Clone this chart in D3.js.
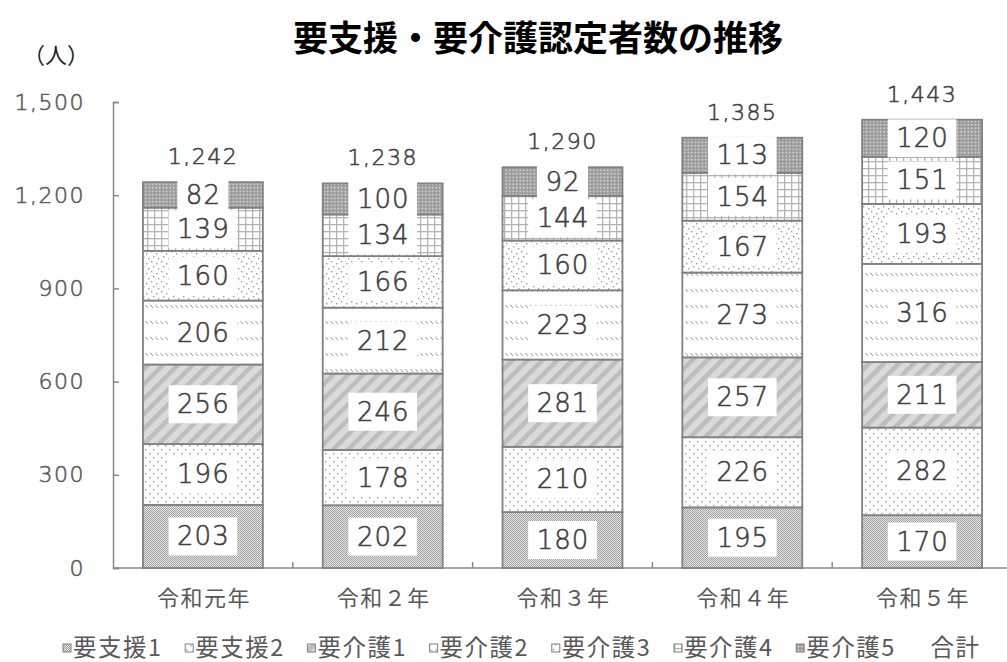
<!DOCTYPE html>
<html>
<head>
<meta charset="utf-8">
<script src="https://cdn.jsdelivr.net/npm/d3@7"></script>
<style>
  html, body { margin: 0; padding: 0; background: #fff; }
  svg { display: block; }
</style>
</head>
<body>
<svg id="chart" width="1007" height="662"></svg>
<script>
// Fiscal years (Reiwa era)
const categories = ['令和元年', '令和２年', '令和３年', '令和４年', '令和５年'];

// Certified persons by care level
const shien1 = [203, 202, 180, 195, 170];
const shien2 = [196, 178, 210, 226, 282];
const kaigo1 = [256, 246, 281, 257, 211];
const kaigo2 = [206, 212, 223, 273, 316];
const kaigo3 = [160, 166, 160, 167, 193];
const kaigo4 = [139, 134, 144, 154, 151];
const kaigo5 = [82, 100, 92, 113, 120];

const seriesNames = ['要支援1', '要支援2', '要介護1', '要介護2', '要介護3', '要介護4', '要介護5'];
const seriesValues = [shien1, shien2, kaigo1, kaigo2, kaigo3, kaigo4, kaigo5];
const totalName = '合計';

const yTicks = [0, 300, 600, 900, 1200, 1500];

const svg = d3.select('#chart');
const numFont = '"DejaVu Sans", sans-serif';
const jpFont = '"Noto Sans CJK JP", sans-serif';

// thin numeral style: extra-light face with a hairline stroke for weight
const numStyle = (sel, size, spacing, color) => sel
  .attr('font-family', numFont).attr('font-weight', 200)
  .attr('font-size', size).attr('letter-spacing', spacing)
  .attr('fill', color).attr('stroke', color).attr('stroke-width', 0.55);

// ---- fill patterns ----
const defs = svg.append('defs');
const ptn = (id, w, h) => defs.append('pattern')
  .attr('id', id).attr('patternUnits', 'userSpaceOnUse')
  .attr('width', w).attr('height', h);

// 要支援1: fine checker
{
  const p = ptn('p0', 2, 2);
  p.append('rect').attr('width', 2).attr('height', 2).attr('fill', '#e6e6e6');
  p.append('rect').attr('width', 1).attr('height', 1).attr('fill', '#a0a0a0');
  p.append('rect').attr('x', 1).attr('y', 1).attr('width', 1).attr('height', 1).attr('fill', '#a0a0a0');
}
// 要支援2: sparse dots
{
  const p = ptn('p1', 8, 8);
  p.append('rect').attr('width', 8).attr('height', 8).attr('fill', '#fff');
  p.append('rect').attr('x', 1).attr('y', 1).attr('width', 1.5).attr('height', 1.5).attr('fill', '#a0a0a0');
  p.append('rect').attr('x', 5).attr('y', 5).attr('width', 1.5).attr('height', 1.5).attr('fill', '#a0a0a0');
}
// 要介護1: wide downward diagonal stripes
{
  const p = ptn('p2', 10.6, 10.6).attr('patternTransform', 'rotate(45)');
  p.append('rect').attr('width', 10.6).attr('height', 10.6).attr('fill', '#dadada');
  p.append('rect').attr('x', 0).attr('width', 4.5).attr('height', 10.6).attr('fill', '#bdbdbd');
}
// 要介護2: dashed downward diagonals
{
  const p = ptn('p3', 5, 16);
  p.append('rect').attr('width', 5).attr('height', 16).attr('fill', '#fff');
  p.append('line').attr('x1', 0.5).attr('y1', 1).attr('x2', 3).attr('y2', 4)
    .attr('stroke', '#a8a8a8').attr('stroke-width', 1.1);
}
// 要介護3: scattered dots
{
  const p = ptn('p4', 10, 10);
  p.append('rect').attr('width', 10).attr('height', 10).attr('fill', '#fff');
  [[1, 1], [6, 3], [3, 6], [8, 8]].forEach(([x, y]) =>
    p.append('rect').attr('x', x).attr('y', y).attr('width', 1.4).attr('height', 1.4).attr('fill', '#9c9c9c'));
}
// 要介護4: open grid
{
  const p = ptn('p5', 7, 7);
  p.append('rect').attr('width', 7).attr('height', 7).attr('fill', '#fff');
  p.append('rect').attr('width', 7).attr('height', 1.3).attr('fill', '#b4b4b4');
  p.append('rect').attr('width', 1.3).attr('height', 7).attr('fill', '#b4b4b4');
}
// 要介護5: dense dark grid
{
  const p = ptn('p6', 3.5, 3.5);
  p.append('rect').attr('width', 3.5).attr('height', 3.5).attr('fill', '#9a9a9a');
  p.append('rect').attr('x', 1.5).attr('y', 1.5).attr('width', 1.5).attr('height', 1.5).attr('fill', '#e8e8e8');
}

// ---- scales ----
const x = d3.scaleBand().domain(categories).range([113, 1012]).paddingInner(0.333).paddingOuter(0.1665);
const y = d3.scaleLinear().domain([0, 1500]).range([568, 102]);

// ---- stacked data ----
const rows = categories.map((c, i) => {
  const r = { cat: c };
  seriesNames.forEach((s, k) => r[s] = seriesValues[k][i]);
  return r;
});
const stacked = d3.stack().keys(seriesNames)(rows);

// ---- title ----
svg.append('text')
  .attr('x', 538).attr('y', 51)
  .attr('text-anchor', 'middle')
  .attr('font-family', jpFont).attr('font-weight', 'bold')
  .attr('font-size', 35).attr('fill', '#000')
  .text('要支援・要介護認定者数の推移');

// unit label
svg.append('text')
  .attr('x', 56).attr('y', 63)
  .attr('text-anchor', 'middle')
  .attr('font-family', jpFont).attr('font-size', 22).attr('fill', '#222')
  .text('（人）');

// ---- axes ----
const yAxis = d3.axisLeft(y).tickValues(yTicks).tickSize(-6).tickFormat(d3.format(','));
const gy = svg.append('g').attr('transform', 'translate(113,0)').call(yAxis);
gy.select('.domain').attr('stroke', '#888').attr('stroke-width', 1.5);
gy.selectAll('.tick line').attr('stroke', '#888').attr('stroke-width', 1.5);
numStyle(gy.selectAll('.tick text').attr('x', -28), 22, 1.5, '#595959');

const gx = svg.append('g').attr('transform', 'translate(0,568)');
gx.append('line').attr('x1', 113).attr('x2', 1012).attr('stroke', '#888').attr('stroke-width', 1.5);
const step = x.step();
gx.selectAll('line.tk').data(d3.range(1, categories.length + 1))
  .join('line').attr('class', 'tk')
  .attr('x1', i => 113 + i * step).attr('x2', i => 113 + i * step)
  .attr('y1', 0).attr('y2', -6).attr('stroke', '#888').attr('stroke-width', 1.5);
gx.selectAll('text').data(categories).join('text')
  .attr('x', d => x(d) + x.bandwidth() / 2 + 1).attr('y', 38)
  .attr('text-anchor', 'middle')
  .attr('font-family', jpFont).attr('font-size', 22).attr('letter-spacing', 1.5)
  .attr('fill', '#595959')
  .text(d => d);

// ---- bars ----
const layers = svg.append('g').selectAll('g').data(stacked).join('g')
  .attr('fill', (d, i) => `url(#p${i})`);
layers.selectAll('rect').data(d => d).join('rect')
  .attr('x', d => x(d.data.cat))
  .attr('y', d => y(d[1]))
  .attr('width', x.bandwidth())
  .attr('height', d => y(d[0]) - y(d[1]))
  .attr('stroke', '#808080').attr('stroke-width', 1.8);

// ---- segment value labels ----
const labels = svg.append('g');
stacked.forEach(layer => {
  layer.forEach(d => {
    const v = d[1] - d[0];
    const cx = x(d.data.cat) + x.bandwidth() / 2;
    const cy = (y(d[0]) + y(d[1])) / 2;
    const g = labels.append('g');
    const box = g.append('rect').attr('fill', '#fff');
    const t = g.append('text')
      .attr('x', cx + 0.5).attr('y', cy)
      .attr('text-anchor', 'middle').attr('dominant-baseline', 'central')
      .text(v);
    numStyle(t, 26, 1, '#404040');
    const w = t.node().getComputedTextLength() + 16;
    box.attr('x', cx - w / 2).attr('y', cy - 19).attr('width', w).attr('height', 38);
  });
});

// ---- totals ----
const totals = svg.append('g').selectAll('text').data(rows).join('text')
  .attr('x', d => x(d.cat) + x.bandwidth() / 2)
  .attr('y', d => y(d3.sum(seriesNames, s => d[s])) - 18)
  .attr('text-anchor', 'middle')
  .text(d => d3.format(',')(d3.sum(seriesNames, s => d[s])));
numStyle(totals, 22, 1.5, '#404040');

// ---- legend ----
const legendItems = seriesNames.map((s, i) => ({ name: s, fill: `url(#p${i})` }))
  .concat([{ name: totalName, fill: null }]);
const lg = svg.append('g').selectAll('g').data(legendItems).join('g')
  .attr('transform', (d, i) => `translate(${63 + i * 122.2},648)`);
lg.filter(d => d.fill).append('rect')
  .attr('x', 0).attr('y', -4).attr('width', 8).attr('height', 8)
  .attr('fill', d => d.fill).attr('stroke', '#808080').attr('stroke-width', 1);
lg.append('text')
  .attr('x', d => d.fill ? 10 : 12).attr('y', 8)
  .attr('font-family', jpFont).attr('font-size', 23.5).attr('letter-spacing', 1.5)
  .attr('fill', '#595959')
  .text(d => d.name);
</script>
</body>
</html>
